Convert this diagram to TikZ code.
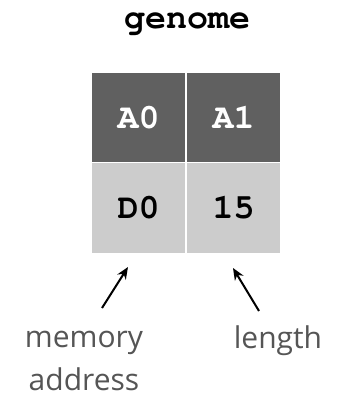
\documentclass[tikz,border=0pt]{standalone}
\usepackage[T1]{fontenc}
\usepackage{fontspec}
\usepackage{tikz}
\usetikzlibrary{arrows.meta}
\newfontfamily\notefont{Open Sans}
\newcommand{\courierbold}{\fontencoding{T1}\fontfamily{pcr}\fontseries{b}\fontsize{17.5}{20}\selectfont}
\definecolor{darkcell}{HTML}{606060}
\definecolor{lightcell}{HTML}{CCCCCC}
\definecolor{notegray}{HTML}{555555}

\begin{document}
\begin{tikzpicture}[x=0.5pt, y=-0.5pt,
  cell/.style={minimum width=46.5pt, minimum height=44.5pt, inner sep=0pt,
    font=\courierbold},
  darkbox/.style={cell, fill=darkcell, text=white},
  lightbox/.style={cell, fill=lightcell, text=black},
  note/.style={font=\notefont\fontsize{15}{21.5}\selectfont, text=notegray, align=center, inner sep=0pt},
  pointer/.style={-{Stealth[length=6pt, width=5pt]}, line width=1pt}]

\useasboundingbox (0,0) rectangle (347,405);

\node (title) at (187,23) [font=\courierbold] {genome};

\node (a0) at (138.5,117.5) [darkbox] {A0};
\node (a1) at (233.5,117.5) [darkbox] {A1};
\node (d0) at (138.5,208) [lightbox] {D0};
\node (len) at (233.5,208) [lightbox] {15};

\node (memnote) at (84,361) [note] {memory\\address};
\node (lennote) at (278,341) [note] {length};

% arrows pointing up at the bottom row
\coordinate (memtail) at (102,308);
\coordinate (memhead) at (128,267);
\coordinate (lentail) at (259,311);
\coordinate (lenhead) at (233,268);

\draw[pointer] (memtail) -- (memhead);
\draw[pointer] (lentail) -- (lenhead);
\end{tikzpicture}
\end{document}
